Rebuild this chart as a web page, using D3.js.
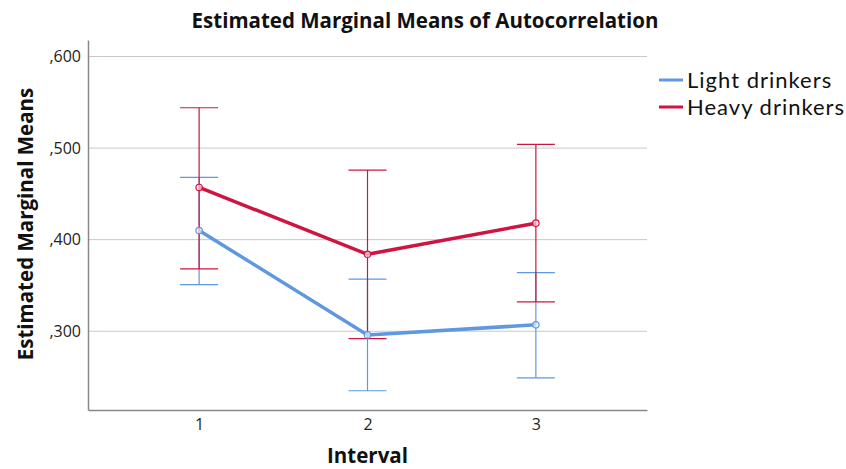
<!DOCTYPE html>
<html>
<head>
<meta charset="utf-8">
<script src="https://cdn.jsdelivr.net/npm/d3@7"></script>
<style>
  body { margin: 0; background: #fff; }
  svg { display: block; font-family: "Open Sans", sans-serif; }
</style>
</head>
<body>
<div id="chart"></div>
<script>
// data
const intervals = ["1", "2", "3"];
const groups = ["Light drinkers", "Heavy drinkers"];
const lightMeans = [0.410, 0.296, 0.307];
const lightLower = [0.351, 0.235, 0.249];
const lightUpper = [0.468, 0.357, 0.364];
const heavyMeans = [0.457, 0.384, 0.418];
const heavyLower = [0.368, 0.292, 0.332];
const heavyUpper = [0.544, 0.476, 0.504];
const yTicks = [0.3, 0.4, 0.5, 0.6];
const colors = ["#5d98e0", "#d0143f"];

const width = 846, height = 469;
const margin = { top: 40, right: 199, bottom: 59, left: 88 };

const series = [
  { name: groups[0], color: colors[0], means: lightMeans, lo: lightLower, hi: lightUpper },
  { name: groups[1], color: colors[1], means: heavyMeans, lo: heavyLower, hi: heavyUpper }
];

const svg = d3.select("#chart").append("svg")
  .attr("width", width)
  .attr("height", height);

const x = d3.scalePoint()
  .domain(intervals)
  .range([margin.left, width - margin.right])
  .padding(0.66);

const y = d3.scaleLinear()
  .domain([0.214, 0.618])
  .range([height - margin.bottom, margin.top]);

// gridlines
svg.append("g")
  .selectAll("line")
  .data(yTicks)
  .join("line")
  .attr("x1", margin.left)
  .attr("x2", width - margin.right)
  .attr("y1", d => y(d))
  .attr("y2", d => y(d))
  .attr("stroke", "#c8c8c8")
  .attr("stroke-width", 1);

// axes
const fmt = d => d3.format(".3f")(d).replace(/^0\./, ",");

const yAxis = svg.append("g")
  .attr("transform", `translate(${margin.left},0)`)
  .call(d3.axisLeft(y).tickValues(yTicks).tickFormat(fmt).tickSize(0).tickPadding(7));
yAxis.attr("font-family", "'Open Sans', sans-serif").attr("font-size", 16);
yAxis.select(".domain").attr("stroke", "#888").attr("stroke-width", 1.5);
yAxis.selectAll("text").attr("fill", "#222");

const xAxis = svg.append("g")
  .attr("transform", `translate(0,${height - margin.bottom})`)
  .call(d3.axisBottom(x).tickSize(0).tickPadding(9));
xAxis.attr("font-family", "'Open Sans', sans-serif").attr("font-size", 16);
xAxis.select(".domain").attr("stroke", "#888").attr("stroke-width", 1.5);
xAxis.selectAll("text").attr("fill", "#222");

// error bars
const capHalf = 19;
series.forEach(s => {
  const g = svg.append("g").attr("stroke", s.color).attr("stroke-width", 1.2).attr("fill", "none");
  intervals.forEach((iv, i) => {
    const cx = x(iv);
    g.append("line").attr("x1", cx).attr("x2", cx).attr("y1", y(s.lo[i])).attr("y2", y(s.hi[i]));
    g.append("line").attr("x1", cx - capHalf).attr("x2", cx + capHalf).attr("y1", y(s.lo[i])).attr("y2", y(s.lo[i]));
    g.append("line").attr("x1", cx - capHalf).attr("x2", cx + capHalf).attr("y1", y(s.hi[i])).attr("y2", y(s.hi[i]));
  });
});

// mean lines
const line = d3.line()
  .x((d, i) => x(intervals[i]))
  .y(d => y(d));

series.forEach(s => {
  svg.append("path")
    .datum(s.means)
    .attr("d", line)
    .attr("fill", "none")
    .attr("stroke", s.color)
    .attr("stroke-width", 3.5);
  svg.append("g")
    .selectAll("circle")
    .data(s.means)
    .join("circle")
    .attr("cx", (d, i) => x(intervals[i]))
    .attr("cy", d => y(d))
    .attr("r", 3.2)
    .attr("fill", "#fff")
    .attr("fill-opacity", 0.6)
    .attr("stroke", s.color)
    .attr("stroke-width", 1.2);
});

// title
svg.append("text")
  .attr("x", 425)
  .attr("y", 28)
  .attr("text-anchor", "middle")
  .attr("font-size", 20.5)
  .attr("font-weight", "bold")
  .attr("fill", "#111")
  .text("Estimated Marginal Means of Autocorrelation");

// axis titles
svg.append("text")
  .attr("x", x("2"))
  .attr("y", 463)
  .attr("text-anchor", "middle")
  .attr("font-size", 20.5)
  .attr("font-weight", "bold")
  .attr("fill", "#111")
  .text("Interval");

svg.append("text")
  .attr("transform", `translate(33,${(margin.top + height - margin.bottom) / 2 - 1}) rotate(-90)`)
  .attr("text-anchor", "middle")
  .attr("font-size", 20.5)
  .attr("font-weight", "bold")
  .attr("fill", "#111")
  .text("Estimated Marginal Means");

// legend
const legend = svg.append("g").attr("transform", "translate(659,80)");
series.forEach((s, i) => {
  const row = legend.append("g").attr("transform", `translate(0,${i * 27})`);
  row.append("line")
    .attr("x1", 0).attr("x2", 24)
    .attr("y1", 0).attr("y2", 0)
    .attr("stroke", s.color)
    .attr("stroke-width", 3);
  row.append("text")
    .attr("x", 28)
    .attr("y", 8)
    .attr("font-family", "Lato, sans-serif")
    .attr("font-size", 22)
    .attr("letter-spacing", 1)
    .attr("fill", "#111")
    .text(s.name);
});
</script>
</body>
</html>
